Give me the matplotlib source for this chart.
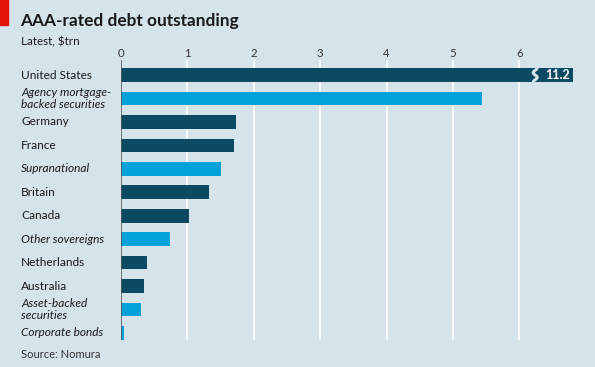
import numpy as np
import matplotlib.pyplot as plt
from matplotlib.patches import Rectangle

# data, $trn
labels = ["United States", "Agency mortgage-\nbacked securities", "Germany", "France",
          "Supranational", "Britain", "Canada", "Other sovereigns", "Netherlands",
          "Australia", "Asset-backed\nsecurities", "Corporate bonds"]
values = [11.2, 5.44, 1.73, 1.70, 1.51, 1.33, 1.02, 0.74, 0.39, 0.35, 0.30, 0.05]
is_sovereign = [True, False, True, True, False, True, True, False, True, True, False, False]
ticks = [0, 1, 2, 3, 4, 5, 6]
axis_cap = 6.81   # where the broken bar is cut off
break_at = 6.24

bg = "#d5e3eb"
dark = "#0b4a62"
light = "#00a2d9"
plt.rcParams['font.family'] = ['Lato', 'DejaVu Sans']

fig = plt.figure(figsize=(5.95, 3.67), dpi=100)
fig.patch.set_facecolor(bg)
ax = fig.add_axes([121 / 595, 1 - 340 / 367, 458 / 595, 280 / 367])
ax.set_facecolor(bg)

y = np.arange(len(values))
shown = [min(v, axis_cap) for v in values]
colors = [dark if s else light for s in is_sovereign]
ax.barh(y, shown, height=0.585, color=colors, zorder=2)

ax.set_xlim(0, 6.9)
ax.set_ylim(11.3, -0.64)
ax.set_xticks(ticks)
ax.xaxis.tick_top()
ax.tick_params(axis='x', length=0, pad=1, labelsize=8.2, labelcolor="#333333")
ax.set_yticks([])
ax.grid(axis='x', color='white', lw=1.2, zorder=1)
for s in ax.spines.values():
    s.set_visible(False)
ax.axvline(0, color="#555555", lw=1.2, zorder=3)

# break mark on the oversized bar
yy = np.linspace(-0.3, 0.3, 30)
xx = break_at + 0.03 * np.sin(yy / 0.3 * np.pi * 1.5)
ax.plot(xx, yy, color=bg, lw=2.2, zorder=4, solid_capstyle='butt')
ax.text(axis_cap - 0.05, 0, "%.1f" % values[0], color="white", fontsize=9,
        fontweight='bold', ha='right', va='center', zorder=5)

# category labels
for i, lab in enumerate(labels):
    style = 'normal' if is_sovereign[i] else 'italic'
    ax.text(-100 / 66.4, i, lab, ha='left', va='center', fontsize=8.6,
            style=style, color="#1a1a1a", linespacing=1.2,
            transform=ax.transData, clip_on=False)

fig.patches.append(Rectangle((0, 1 - 25 / 367), 8 / 595, 25 / 367,
                             transform=fig.transFigure, color="#e3120b"))
fig.text(20 / 595, 1 - 21 / 367, "AAA-rated debt outstanding", fontsize=12.4,
         fontweight='bold', va='center', color="#1a1a1a")
fig.text(21 / 595, 1 - 42 / 367, "Latest, $trn", fontsize=8.4, va='center', color="#1a1a1a")
fig.text(21 / 595, 1 - 354 / 367, "Source: Nomura", fontsize=8, va='center', color="#333333")

fig.savefig("out.png", dpi=100, facecolor=bg)
